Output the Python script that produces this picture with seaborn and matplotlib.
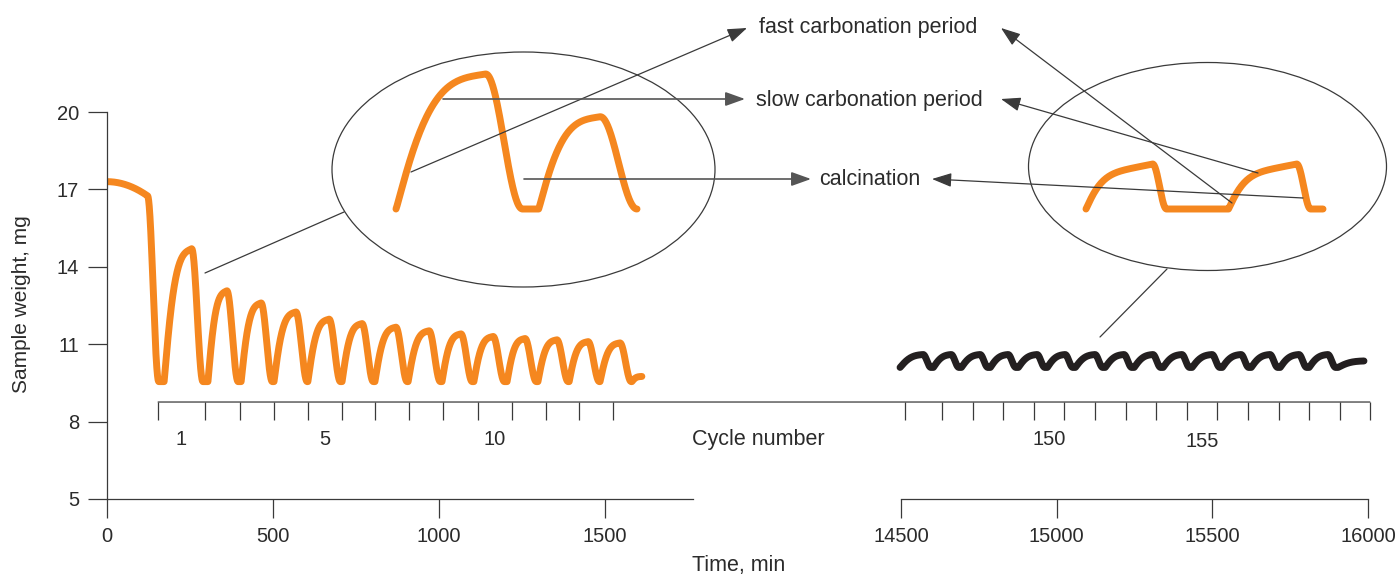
import numpy as np
import matplotlib.pyplot as plt
import seaborn as sns
from matplotlib.patches import Ellipse, FancyArrowPatch, ConnectionPatch, ArrowStyle

W, H = 1398, 577
ORANGE = "#F5871F"
BLACK = "#231F20"
INK = "#2B2B2B"
LINE = "#3A3A3A"

# first cycles (orange): time in min, sample weight in mg
lead_time = [0, 122]
lead_weight = [17.3, 16.75]
orange_trough_time = [172, 304, 404, 503, 605, 708, 807, 907, 1009, 1105, 1205, 1298, 1392, 1485, 1581]
orange_peak_time = [255, 361, 464, 569, 669, 768, 870, 970, 1066, 1163, 1259, 1355, 1449, 1545]
orange_peak_weight = [14.7, 13.07, 12.6, 12.25, 11.97, 11.8, 11.66, 11.52, 11.4, 11.3, 11.22, 11.17, 11.1, 11.05]
orange_low = 9.55
orange_end = [1611, 9.75]

# late cycles (black)
black_trough_time = [14497, 14604, 14694, 14787, 14877, 14970, 15060, 15156, 15249,
                     15342, 15435, 15532, 15625, 15718, 15811, 15904]
black_peak_time = [14571, 14661, 14754, 14844, 14937, 15027, 15123, 15216, 15309,
                   15402, 15499, 15592, 15685, 15778, 15871]
black_peak_weight = [10.6, 10.6, 10.6, 10.6, 10.6, 10.6, 10.6, 10.6, 10.6,
                     10.6, 10.6, 10.6, 10.6, 10.6, 10.6]
black_low = 10.1
black_end = [15987, 10.35]

# magnified sketch of two late cycles (right ellipse)
late_zoom_trough_time = [15264, 15356, 15417]
late_zoom_peak_time = [15307, 15400]
late_zoom_peak_weight = [10.6, 10.6]
late_zoom_end = [15417, 10.1]

# cycle number axis (cycle boundaries, in min)
cycle_left_bounds = [154, 295, 401, 503, 605, 708, 807, 910, 1012, 1117, 1220, 1322, 1422, 1524]
cycle_left_first = 1
cycle_left_labels = [1, 5, 10]
cycle_right_bounds = [14513, 14632, 14731, 14828, 14928, 15024, 15124, 15223,
                      15319, 15419, 15515, 15615, 15714, 15810, 15910, 16006]
cycle_right_first = 146
cycle_right_labels = [150, 155]

left_ticks = [0, 500, 1000, 1500]
right_ticks = [14500, 15000, 15500, 16000]
weight_ticks = [5, 8, 11, 14, 17, 20]

# window of the early cycles shown in the left ellipse
left_zoom = [172, 395]


def rise(s, a, p):
    return a * (1 - (1 - s ** 1.1) ** p) + (1 - a) * s


def fall(s):
    return (1 - np.cos(np.pi * s)) / 2


def build_trace(trough_time, peak_time, peak_weight, low, end, drop, a, p,
                lead_t=None, lead_w=None):
    s = np.linspace(0, 1, 80)
    ts, ws = [], []
    if lead_t is not None:
        ts.append(lead_t[0] + (lead_t[1] - lead_t[0]) * s)
        ws.append(lead_w[0] + (lead_w[1] - lead_w[0]) * s ** 2)
        ts.append(lead_t[1] + drop * s)
        ws.append(lead_w[1] - (lead_w[1] - low) * fall(s))
    for i, (tp, wp) in enumerate(zip(peak_time, peak_weight)):
        tr = trough_time[i]
        ts.append(tr + (tp - tr) * s)
        ws.append(low + (wp - low) * rise(s, a, p))
        ts.append(tp + drop * s)
        ws.append(wp - (wp - low) * fall(s))
    tr = trough_time[len(peak_time)]
    ts.append(tr + (end[0] - tr) * s)
    ws.append(low + (end[1] - low) * rise(s, a, p))
    return np.concatenate(ts), np.concatenate(ws)


def px_box(x0, y0, x1, y1):
    return [x0 / W, 1 - y1 / H, (x1 - x0) / W, (y1 - y0) / H]


def draw_curve(ax, t, w, color, clip=True):
    sns.lineplot(x=t, y=w, ax=ax, color=color, linewidth=5, clip_on=clip,
                 estimator=None, sort=False, solid_capstyle="round", solid_joinstyle="round")


sns.set_theme(style="white")
plt.rcParams["font.family"] = ["Liberation Sans", "DejaVu Sans"]

orange_t, orange_w = build_trace(orange_trough_time, orange_peak_time, orange_peak_weight,
                                 orange_low, orange_end, drop=34, a=0.9, p=3.5,
                                 lead_t=lead_time, lead_w=lead_weight)
black_t, black_w = build_trace(black_trough_time, black_peak_time, black_peak_weight,
                               black_low, black_end, drop=25, a=0.85, p=3)
zoom_t, zoom_w = build_trace(late_zoom_trough_time, late_zoom_peak_time, late_zoom_peak_weight,
                             black_low, late_zoom_end, drop=9, a=0.7, p=6)

fig = plt.figure(figsize=(W / 100, H / 100), dpi=100)
axL = fig.add_axes(px_box(107, 112, 693, 499))
axR = fig.add_axes(px_box(901, 112, 1368, 499))

draw_curve(axL, orange_t, orange_w, ORANGE)
draw_curve(axR, black_t, black_w, BLACK, clip=False)

for ax in (axL, axR):
    ax.set_ylim(5, 20)
    ax.set_xlabel("")
    ax.set_ylabel("")
    for side in ("top", "right"):
        ax.spines[side].set_visible(False)
    for side in ("left", "bottom"):
        ax.spines[side].set_color(LINE)
        ax.spines[side].set_linewidth(0.9)
    ax.tick_params(axis="both", direction="out", length=13.5, width=0.9, color=LINE,
                   labelsize=14.5, labelcolor=INK, pad=6.5, left=True, bottom=True)

axL.set_xlim(0, 1765)
axL.set_xticks(left_ticks)
axL.set_yticks(weight_ticks)
axR.set_xlim(14500, 16000)
axR.set_xticks(right_ticks)
axR.spines["left"].set_visible(False)
axR.tick_params(axis="y", left=False, labelleft=False)

# cycle number axis
level, tick_low, lab_level = 0.2506, 0.204, 0.1395
axL.vlines(cycle_left_bounds, tick_low, level, transform=axL.get_xaxis_transform(),
           color=LINE, lw=0.9, clip_on=False)
axR.vlines(cycle_right_bounds, tick_low, level, transform=axR.get_xaxis_transform(),
           color=LINE, lw=0.9, clip_on=False)
fig.add_artist(ConnectionPatch(xyA=(cycle_left_bounds[0], level), coordsA=axL.get_xaxis_transform(),
                               xyB=(cycle_right_bounds[-1], level), coordsB=axR.get_xaxis_transform(),
                               color=LINE, lw=0.9))
for n in cycle_left_labels:
    i = n - cycle_left_first
    mid = (cycle_left_bounds[i] + cycle_left_bounds[i + 1]) / 2
    axL.text(mid, lab_level, str(n), transform=axL.get_xaxis_transform(), ha="center",
             va="baseline", fontsize=14.5, color=INK, clip_on=False)
for n in cycle_right_labels:
    i = n - cycle_right_first
    mid = (cycle_right_bounds[i] + cycle_right_bounds[i + 1]) / 2
    axR.text(mid, lab_level - 0.006 * (n == 155), str(n), transform=axR.get_xaxis_transform(),
             ha="center", va="baseline", fontsize=14.5, color=INK, clip_on=False)

# magnified insets
insL = fig.add_axes(px_box(396, 74, 637, 209))
sel = (orange_t >= left_zoom[0]) & (orange_t <= left_zoom[1])
draw_curve(insL, orange_t[sel], orange_w[sel], ORANGE, clip=False)
insL.set_xlim(left_zoom)
insL.set_ylim(orange_low, orange_peak_weight[0])
insL.set_axis_off()

insR = fig.add_axes(px_box(1086, 164, 1323, 209))
draw_curve(insR, zoom_t, zoom_w, ORANGE, clip=False)
insR.set_xlim(late_zoom_trough_time[0], late_zoom_end[0])
insR.set_ylim(black_low, late_zoom_peak_weight[0])
insR.set_axis_off()

# annotation layer in pixel coordinates
ov = fig.add_axes([0, 0, 1, 1], zorder=10)
ov.set_xlim(0, W)
ov.set_ylim(H, 0)
ov.set_axis_off()
ov.patch.set_alpha(0)

ov.add_patch(Ellipse((523.5, 169.5), 383, 235, fill=False, ec=LINE, lw=0.9))
ov.add_patch(Ellipse((1207.5, 166.5), 358, 208, fill=False, ec=LINE, lw=0.9))
ov.plot([205, 344], [273, 212], color=LINE, lw=0.9)
ov.plot([1100, 1167], [337, 269], color=LINE, lw=0.9)

head = ArrowStyle("-|>", head_length=12, head_width=4.3)
arrows = [((411, 172), (747, 28), LINE, 0.9),
          ((443, 99), (745, 99), "#555555", 1.2),
          ((524, 179), (811, 179), "#555555", 1.2),
          ((1232, 203), (1001, 28), LINE, 0.9),
          ((1258, 173), (1001, 99), LINE, 0.9),
          ((1303, 198), (932, 179), LINE, 0.9)]
for start, tip, col, lw in arrows:
    ov.add_patch(FancyArrowPatch(start, tip, arrowstyle=head, mutation_scale=1,
                                 color=col, lw=lw, shrinkA=0, shrinkB=0))

txt = dict(fontsize=15.5, color=INK, va="baseline", ha="left")
ov.text(759, 33, "fast carbonation period", **txt)
ov.text(756, 106, "slow carbonation period", **txt)
ov.text(819, 185, "calcination", **txt)
ov.text(692, 444.5, "Cycle number", **txt)
ov.text(692, 571, "Time, min", **txt)
ov.text(22, 304, "Sample weight, mg", fontsize=15, color=INK, rotation=90,
        ha="center", va="center")

fig.savefig("out.png", dpi=100)
